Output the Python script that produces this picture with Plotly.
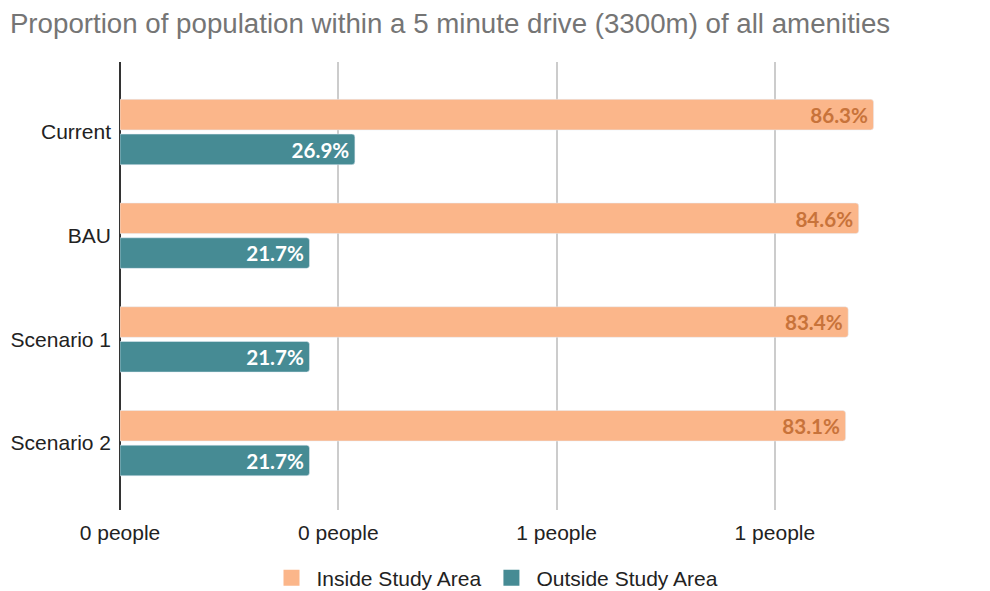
import plotly.graph_objects as go

categories = ["Current", "BAU", "Scenario 1", "Scenario 2"]
inside_vals = [0.863, 0.846, 0.834, 0.831]
outside_vals = [0.269, 0.217, 0.217, 0.217]
tick_vals = [0, 0.25, 0.5, 0.75]
tick_text = ["0 people", "0 people", "1 people", "1 people"]
series_names = ["Inside Study Area", "Outside Study Area"]
series_colors = ["#FBB68A", "#468B94"]
label_colors = ["#C8733A", "#FFFFFF"]

fig = go.Figure()
for vals, name, col, lcol in zip([inside_vals, outside_vals], series_names,
                                 series_colors, label_colors):
    fig.add_trace(go.Bar(
        y=categories, x=vals, orientation="h", name=name, showlegend=False,
        legendgroup=name,
        marker=dict(color=col, cornerradius=3),
        texttemplate="%{x:.1%}\u2009", textposition="inside", insidetextanchor="end",
        textfont=dict(family="Lato", size=21, color=lcol, weight="bold"),
    ))
for name, col in zip(series_names, series_colors):
    fig.add_trace(go.Scatter(
        x=[None], y=[None], mode="markers", name=name, legendgroup=name,
        marker=dict(symbol="square", size=20, color=col), hoverinfo="skip",
    ))

fig.update_layout(
    width=990, height=591,
    margin=dict(l=120, r=30, t=62, b=81),
    paper_bgcolor="white", plot_bgcolor="white",
    font=dict(family="Liberation Sans, Arial", size=21, color="#222222"),
    title=dict(text="Proportion of population within a 5 minute drive (3300m) of all amenities",
               x=0.01, xref="container", xanchor="left",
               y=1 - 23 / 591, yref="container", yanchor="middle",
               font=dict(size=27.7, color="#757575")),
    barmode="group", bargap=0.33, bargroupgap=0.12,
    showlegend=True,
    legend=dict(orientation="h", x=0.5, xanchor="center", xref="container",
                y=1 - 578 / 591, yref="container", yanchor="middle",
                font=dict(size=21, color="#222222"), traceorder="normal",
                itemwidth=40),
    uniformtext=dict(mode=False),
)
fig.update_xaxes(range=[0, 0.962], tickvals=tick_vals, ticktext=tick_text,
                 showgrid=True, gridcolor="#CCCCCC", gridwidth=1.5,
                 zeroline=True, zerolinecolor="#333333", zerolinewidth=1.5,
                 showline=False, ticks="", tickfont=dict(size=21),
                 ticklabelstandoff=8)
fig.update_yaxes(categoryorder="array", categoryarray=categories,
                 range=[3.645, -0.675], showgrid=False, zeroline=False,
                 showline=False, ticks="", ticklabelstandoff=8,
                 tickfont=dict(size=21))

fig.write_html("out.html")
